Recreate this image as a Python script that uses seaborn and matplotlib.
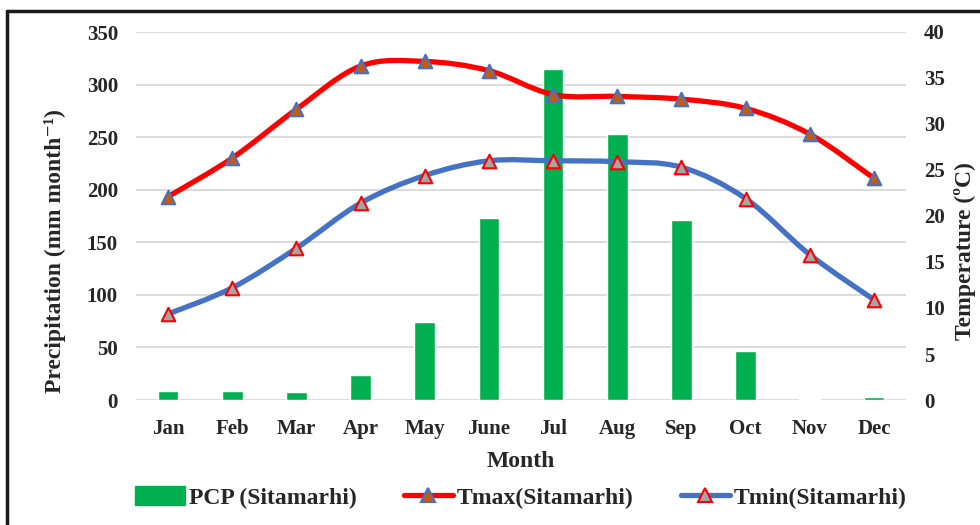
import numpy as np
import pandas as pd
import seaborn as sns
import matplotlib.pyplot as plt
from matplotlib.path import Path
from matplotlib.patches import PathPatch
from matplotlib.lines import Line2D
from matplotlib.patches import Patch

months = ['Jan', 'Feb', 'Mar', 'Apr', 'May', 'June', 'Jul', 'Aug', 'Sep', 'Oct', 'Nov', 'Dec']
pcp = [9, 9, 8, 24, 74, 173, 315, 253, 171, 47, 1.0, 3]
tmax = [22.1, 26.3, 31.6, 36.3, 36.8, 35.8, 33.2, 33.0, 32.7, 31.7, 28.9, 24.1]
tmin = [9.35, 12.2, 16.5, 21.4, 24.4, 26.0, 26.0, 25.9, 25.3, 21.9, 15.8, 10.9]

green = '#00B050'
red = '#FF0000'
blue = '#4472C4'


def smooth_path(xs, ys):
    # excel-like smoothed line: catmull-rom segments as cubic beziers
    p = np.column_stack([xs, ys]).astype(float)
    n = len(p)
    verts = [p[0]]
    codes = [Path.MOVETO]
    for i in range(n - 1):
        p0 = p[i - 1] if i > 0 else p[i]
        p3 = p[i + 2] if i + 2 < n else p[i + 1]
        c1 = p[i] + (p[i + 1] - p0) / 6
        c2 = p[i + 1] - (p3 - p[i]) / 6
        verts += [c1, c2, p[i + 1]]
        codes += [Path.CURVE4] * 3
    return Path(verts, codes)


sns.set_style('white')
plt.rcParams['font.family'] = ['Liberation Serif', 'DejaVu Serif']
plt.rcParams['font.weight'] = 'bold'

fig = plt.figure(figsize=(9.8, 5.25), dpi=100)
ax = fig.add_axes([136 / 980, 1 - 400 / 525, 770 / 980, 368 / 525])

df = pd.DataFrame({'Month': months, 'PCP': pcp})
sns.barplot(data=df, x='Month', y='PCP', color=green, saturation=1,
            width=0.32, ax=ax, zorder=2)
ax.set_ylim(0, 350)
ax.set_yticks(range(0, 351, 50))
ax.grid(axis='y', color='#D9D9D9', lw=1.3)
ax.set_axisbelow(True)
ax.tick_params(length=0, labelsize=15, pad=13)
ax.tick_params(axis='x', pad=14)
for s in ax.spines.values():
    s.set_visible(False)

ax.set_xlabel('Month', fontsize=17, fontweight='bold')
ax.xaxis.set_label_coords(0.5, -0.168)
ax.xaxis.label.set_va('center')
ax.set_ylabel('Precipitation (mm month\u207b\u00b9)', fontsize=17, fontweight='bold')
ax.yaxis.set_label_coords(-0.105, 0.405)
ax.yaxis.label.set_va('center')

ax2 = ax.twinx()
x = np.arange(len(months))
ax2.add_patch(PathPatch(smooth_path(x, tmax), fill=False, edgecolor=red, lw=3.8,
                        capstyle='round', zorder=3))
ax2.add_patch(PathPatch(smooth_path(x, tmin), fill=False, edgecolor=blue, lw=3.8,
                        capstyle='round', zorder=3))
sns.scatterplot(x=x, y=tmax, marker='^', s=95, color='#C55A11', edgecolor=blue,
                linewidth=1.5, ax=ax2, zorder=4)
sns.scatterplot(x=x, y=tmin, marker='^', s=95, color='#A5A5A5', edgecolor=red,
                linewidth=1.5, ax=ax2, zorder=4)
ax2.set_ylim(0, 40)
ax2.set_yticks(range(0, 41, 5))
ax2.set_xlim(-0.5, len(months) - 0.5)
ax2.tick_params(length=0, labelsize=15, pad=13)
for s in ax2.spines.values():
    s.set_visible(False)
ax2.set_ylabel('Temperature (ºC)', fontsize=17, fontweight='bold', rotation=90)
ax2.yaxis.set_label_coords(1.077, 0.405)
ax2.yaxis.label.set_va('center')

handles = [
    Patch(facecolor=green, edgecolor=green),
    Line2D([], [], color=red, lw=3.8, marker='^', markersize=9.5,
           markerfacecolor='#C55A11', markeredgecolor=blue, markeredgewidth=1.5),
    Line2D([], [], color=blue, lw=3.8, marker='^', markersize=9.5,
           markerfacecolor='#A5A5A5', markeredgecolor=red, markeredgewidth=1.5),
]
labels = ['PCP (Sitamarhi)', 'Tmax(Sitamarhi)', 'Tmin(Sitamarhi)']
fig.legend(handles, labels, loc='center', bbox_to_anchor=(521 / 980, 0.053), ncol=3,
           frameon=False, fontsize=17, handlelength=2.1, handletextpad=0.15,
           columnspacing=2.0, handleheight=0.9)

# outer frame (left and top edges visible in the original)
fig.add_artist(Line2D([7 / 980, 7 / 980], [0, 1 - 11 / 525], color='#1a1a1a', lw=2.5))
fig.add_artist(Line2D([7 / 980, 1], [1 - 11 / 525, 1 - 11 / 525], color='#1a1a1a', lw=2.5))

fig.savefig('out.png', dpi=100)
